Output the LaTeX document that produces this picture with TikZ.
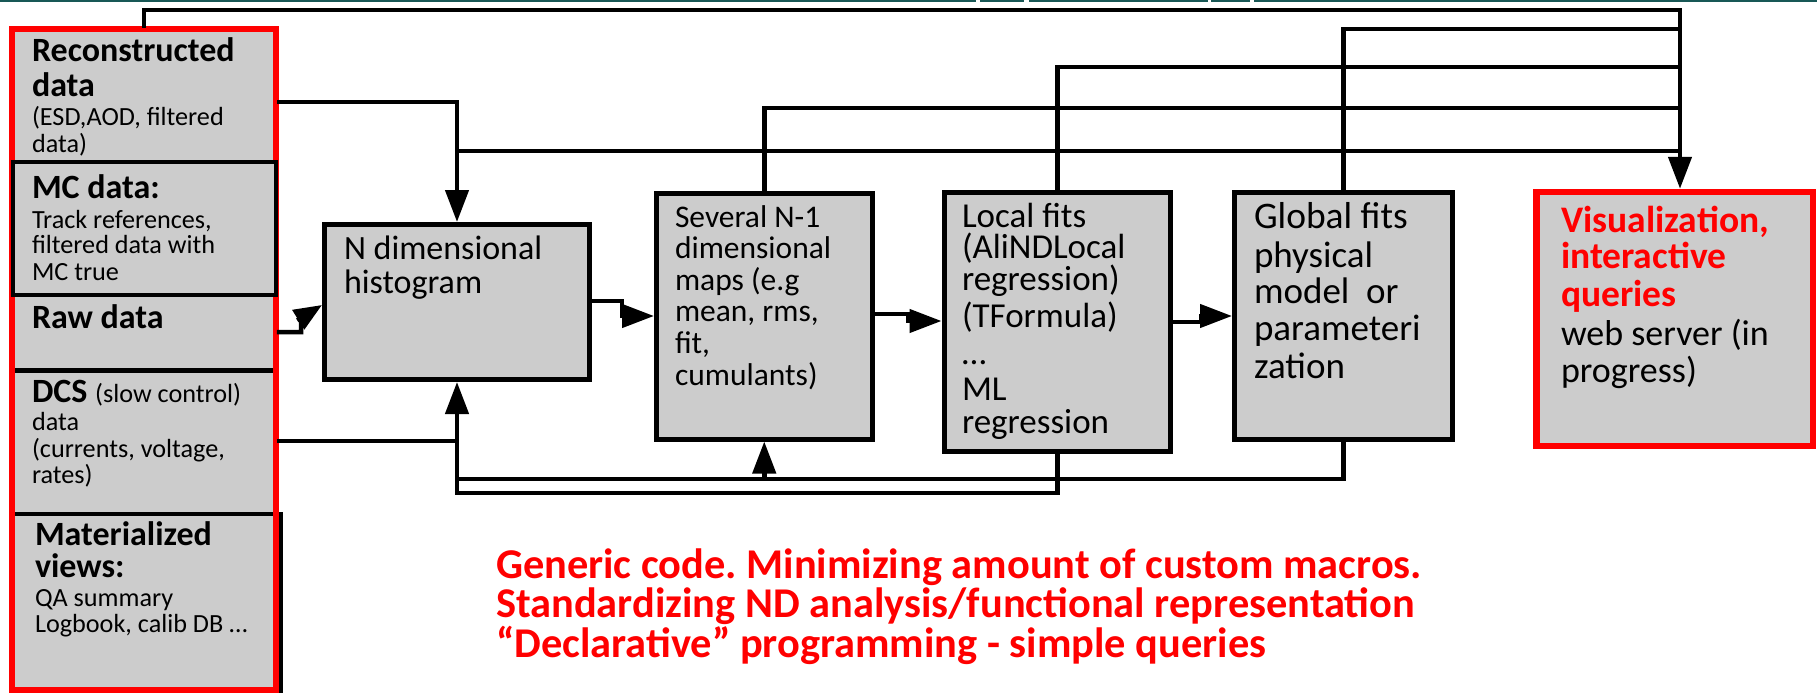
\documentclass[tikz,border=0pt]{standalone}
\usepackage{fontspec}
\setmainfont{Carlito}
\usetikzlibrary{arrows.meta}
\definecolor{boxgray}{RGB}{204,204,204}
\definecolor{topteal}{RGB}{24,88,86}
\definecolor{pptred}{RGB}{255,0,0}
\frenchspacing
\newcommand\fs[1]{\fontsize{#1pt}{#1pt}\selectfont}
\newcommand\Ln[2]{\baselineskip=#1pt\relax\hbox{#2}}
\newcommand\Blk[1]{\vtop{\lineskiplimit=-1000pt\lineskip=0pt\relax #1}}
\newcommand\hdf{\fs{34}\bfseries}
\newcommand\smf{\fs{26.2}}
\begin{document}
\begin{tikzpicture}[x=1pt,y=-1pt,line join=miter,
  conn/.style={line width=4.5pt,draw=black,line cap=rect},
  arr/.style={conn,-{Triangle[length=32pt,width=23pt]}},
  box/.style={draw=black,line width=5pt,fill=boxgray,inner sep=0pt},
  txt/.style={anchor=base west,inner sep=0pt,outer sep=0pt}]
\useasboundingbox (0,0) rectangle (1817,693);
% top strip
\draw[topteal,line width=2.5pt] (0,1) -- (976,1) (980,1) -- (1024,1) (1029,1) -- (1208,1) (1211,1) -- (1250,1) (1254,1) -- (1817,1);
% left column
\fill[boxgray] (12,29) rectangle (276,690);
\node[draw=black,line width=4pt,fill=boxgray,inner sep=0pt,minimum width=268.5pt,minimum height=186pt] (mat) at (146.25,607) {};
\draw[line width=5pt] (15,370) -- (273,370);
\node[draw=pptred,line width=6pt,inner sep=0pt,minimum width=264pt,minimum height=661pt] (src) at (144,359.5) {};
\node[box,line width=4.5pt,minimum width=263pt,minimum height=133pt] (mc) at (144.5,228.5) {};
\node[txt] (recon) at (32,62) {\Blk{\Ln{0}{\hdf Reconstructed}\Ln{35}{\hdf data}\Ln{28.5}{\smf (ESD,AOD, filtered}\Ln{26.5}{\smf data)}}};
\node[txt] (mct) at (32,198.3) {\Blk{\Ln{0}{\hdf MC data:}\Ln{30}{\smf Track references,}\Ln{25}{\smf filtered data with}\Ln{26.7}{\smf MC true}}};
\node[txt] (raw) at (32,328.3) {\hdf Raw data};
\node[txt] (dcs) at (32,402.7) {\Blk{\Ln{0}{\hdf DCS \smf\mdseries(slow control)}\Ln{27.3}{\smf data}\Ln{27.3}{\smf (currents, voltage,}\Ln{26}{\smf rates)}}};
\node[txt] (matt) at (35,545) {\Blk{\Ln{0}{\hdf Materialized}\Ln{32.3}{\hdf views:}\Ln{29.4}{\smf QA summary}\Ln{26}{\smf Logbook, calib DB …}}};
% main boxes
\node[box,minimum width=265pt,minimum height=155pt] (nd) at (457,302) {};
\node[box,minimum width=215.5pt,minimum height=246pt] (sev) at (764.25,316) {};
\node[box,minimum width=226.5pt,minimum height=259pt] (loc) at (1057.25,322) {};
\node[box,minimum width=218pt,minimum height=246.5pt] (glob) at (1343.5,315.75) {};
\node[box,draw=pptred,line width=6.5pt,minimum width=276.5pt,minimum height=254pt] (vis) at (1674.75,319) {};
\node[txt] (ndt) at (344,259) {\Blk{\Ln{0}{\fs{34}N dimensional}\Ln{34}{\fs{34}histogram}}};
\node[txt] (sevt) at (675,227) {\Blk{\Ln{0}{\fs{31.5}Several N-1}\Ln{31.6}{\fs{31.5}dimensional}\Ln{31.6}{\fs{31.5}maps (e.g}\Ln{31.6}{\fs{31.5}mean, rms,}\Ln{31.6}{\fs{31.5}fit,}\Ln{31.6}{\fs{31.5}cumulants)}}};
\node[txt] (loct) at (962,227) {\Blk{\Ln{0}{\fs{35}Local fits}\Ln{31.5}{\fs{35}(AliNDLocal}\Ln{31.5}{\fs{35}regression)}\Ln{37.5}{\fs{35}(TFormula)}\Ln{37}{\fs{35}…}\Ln{36}{\fs{35}ML}\Ln{33}{\fs{35}regression}}};
\node[txt] (globt) at (1254,228) {\Blk{\Ln{0}{\fs{37.5}Global fits}\Ln{39}{\fs{37}physical}\Ln{36}{\fs{37}model\ \ or}\Ln{37}{\fs{37}parameteri}\Ln{38}{\fs{37}zation}}};
\node[txt] (vist) at (1561,232) {\Blk{\Ln{0}{\fs{37.5}\bfseries\color{pptred}Visualization,}\Ln{36.5}{\fs{37.5}\bfseries\color{pptred}interactive}\Ln{37.5}{\fs{37.5}\bfseries\color{pptred}queries}\Ln{39}{\fs{36}web server (in}\Ln{37}{\fs{36}progress)}}};
\node[txt] (note) at (496,578) {\Blk{\Ln{0}{\fs{42.4}\bfseries\color{pptred}Generic code. Minimizing amount of custom macros.}\Ln{39.7}{\fs{42.4}\bfseries\color{pptred}Standardizing ND analysis/functional representation}\Ln{39.7}{\fs{42.4}\bfseries\color{pptred}“Declarative” programming - simple queries}}};
% connectors
\coordinate (bus) at (1680,10);
\draw[arr] (src.north -| 144,0) |- (bus) -- (vis.north -| bus);
\draw[conn] (glob.north) |- (bus |- 0,29);
\draw[conn] (loc.north) |- (bus |- 0,67);
\draw[conn] (sev.north) |- (bus |- 0,108);
\draw[arr] (src.east |- 0,102) -| (nd.north);
\draw[conn] (nd.north |- 0,151) -- (bus |- 0,151);
\draw[conn,-{Triangle[length=28pt,width=22pt]}] (src.east |- 0,332) -- (301,332) -- (301,318) -- (nd.west |- 0,305);
\draw[arr] (nd.east |- 0,301) -- (622,301) -- (622,316) -- (sev.west |- 0,316);
\draw[arr] (sev.east |- 0,314) -- (908,314) -- (908,321) -- (loc.west |- 0,321);
\draw[arr] (loc.east |- 0,322) -- (1201,322) -- (1201,316) -- (glob.west |- 0,316);
\draw[conn] (src.east |- 0,441) -- (nd.south |- 0,441);
\draw[arr] (loc.south) |- (nd.south |- 0,493) -- (nd.south);
\draw[conn] (glob.south) |- (nd.south |- 0,479);
\draw[arr] (sev.south |- 0,479) -- (sev.south);
\end{tikzpicture}
\end{document}
